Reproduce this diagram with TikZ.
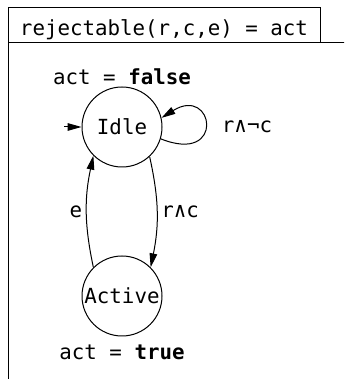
\documentclass[tikz,border=0pt]{standalone}
\usepackage{fontspec}
\setmonofont{DejaVu Sans Mono}
\usetikzlibrary{arrows.meta,
                positioning}

\tikzset{
  loc/.style={circle, draw, minimum size=40pt, inner sep=0pt},
  trans/.style={-{Triangle[length=7pt,width=3.8pt]}},
  lbl/.style={inner sep=2pt}
}

\begin{document}
\begin{tikzpicture}[x=0.5pt, y=0.5pt, line width=0.5pt,
                    font=\fontsize{10.4pt}{12pt}\selectfont\ttfamily]
\useasboundingbox (0,0) rectangle (344,379);
\clip (0,0) rectangle (344,379);
\draw (8.5,336.5) rectangle (400,-20);
\draw (8.5,336.5) rectangle (320.5,371.5);
\node (title) at (164,349) {rejectable(r,c,e) = act};

\node[loc] (Idle) at (122,252) {Idle};
\node[loc] (Active) at (122,83) {Active};
\node (idleout) at (122,302) {act = \textbf{false}};
\node (activeout) at (122,27) {act = \textbf{true}};

\coordinate (start) at (64,252);
\draw[trans] (start) -- (Idle);
\draw[trans] (Idle.-17) .. controls (226,214) and (214,294) .. (Idle.13);
\node (looplbl) at (247,252) {r∧¬c};
\draw[trans] (Idle.-47) to[bend left=12] node[lbl, right] {r∧c} (Active.45);
\draw[trans] (Active.135) to[bend left=12] node[lbl, left] {e} (Idle.-135);
\end{tikzpicture}
\end{document}
